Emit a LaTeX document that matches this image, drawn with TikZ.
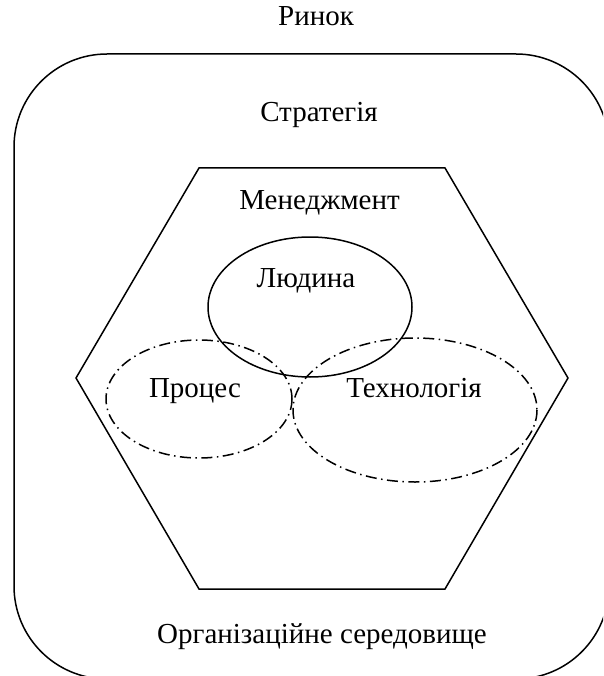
\documentclass[tikz,border=0pt]{standalone}
\usepackage{fontspec}
\setmainfont{Liberation Serif}
\tikzset{%
    lbl/.style={inner sep=0pt,anchor=base,font=\fontsize{29}{34}\selectfont},
    solidline/.style={line width=1.5pt},
    dashdotline/.style={line width=1.5pt,dash pattern=on 11pt off 4.5pt on 1.5pt off 4.5pt}
}
\begin{document}
\begin{tikzpicture}[x=1pt,y=-1pt]
        \useasboundingbox (0,0) rectangle (603,676);
        \clip (0,0) rectangle (603,676);

        \draw[solidline,rounded corners=93pt] (14,54) rectangle (609,679);

        \draw[solidline] (199,168) -- (445,168) -- (568,378) -- (445,589)
            -- (199,589) -- (76,378) -- cycle;

        \draw[solidline] (310,307) ellipse [x radius=102, y radius=70];
        \draw[dashdotline] (199,399) ellipse [x radius=93, y radius=59];
        \draw[dashdotline] (415,410) ellipse [x radius=122, y radius=72];

        \node[lbl] (rynok) at (316,26) {Ринок};
        \node[lbl] (strat) at (319,121.7) {Стратегія};
        \node[lbl] (men) at (319.5,209) {Менеджмент};
        \node[lbl] (lyud) at (306,287.7) {Людина};
        \node[lbl] (proc) at (195,397) {Процес};
        \node[lbl] (tech) at (414,397) {Технологія};
        \node[lbl] (org) at (322,643) {Організаційне середовище};
    \end{tikzpicture}
\end{document}
